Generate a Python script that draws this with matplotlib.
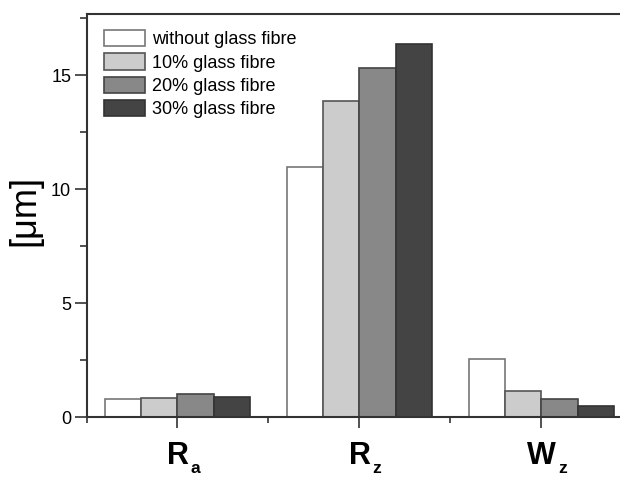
import matplotlib
matplotlib.use("Agg")
import matplotlib.pyplot as plt
import numpy as np
from matplotlib.ticker import MultipleLocator

plt.rcParams['font.family'] = ['Liberation Sans', 'DejaVu Sans']

categories = ['R', 'R', 'W']
subscripts = ['a', 'z', 'z']
series = ['without glass fibre', '10% glass fibre', '20% glass fibre', '30% glass fibre']
without_gf = [0.77, 10.98, 2.54]
gf10 = [0.85, 13.85, 1.12]
gf20 = [0.99, 15.32, 0.80]
gf30 = [0.89, 16.35, 0.49]

values = [without_gf, gf10, gf20, gf30]
colors = ['#ffffff', '#cccccc', '#888888', '#444444']
edges = ['#777777', '#555555', '#444444', '#333333']

fig = plt.figure(figsize=(6.2, 4.79), dpi=100)
ax = fig.add_axes([86.5 / 620, 62 / 479, 546 / 620, 403.5 / 479])

x = np.arange(len(categories))
w = 0.2
for i, (vals, c, ec, lab) in enumerate(zip(values, colors, edges, series)):
    ax.bar(x + (i - 1.5) * w, vals, w, color=c, edgecolor=ec, linewidth=1.2, label=lab)

ax.set_xlim(-0.5, 2.5)
ax.set_ylim(0, 17.7)
ax.set_xticks(x)
ax.set_xticklabels(categories, fontsize=22, fontweight='bold')
ax.xaxis.set_minor_locator(MultipleLocator(1, offset=0.5))
ax.yaxis.set_major_locator(MultipleLocator(5))
ax.yaxis.set_minor_locator(MultipleLocator(2.5))
ax.tick_params(axis='y', which='major', length=9, width=1.2, labelsize=13, pad=2, color='#333333')
ax.tick_params(axis='y', which='minor', length=5, width=1.2, color='#333333')
ax.tick_params(axis='x', which='major', length=8, width=1.2, pad=9.5, color='#333333')
ax.tick_params(axis='x', which='minor', length=4, width=1.2, color='#333333')
for s in ax.spines.values():
    s.set_linewidth(1.5)
    s.set_color('#333333')

ax.set_ylabel('[μm]', fontsize=26)
ax.yaxis.set_label_coords(-44.5 / 546, 0.512)

ax.legend(loc='upper left', frameon=False, fontsize=13, handlelength=2.3,
          handleheight=1.0, handletextpad=0.35, labelspacing=0.28,
          bbox_to_anchor=(0.0088, 0.99), borderaxespad=0.3)

# subscripts set low and to the right of the bold letters
fig.canvas.draw()
for lbl, sub in zip(ax.get_xticklabels(), subscripts):
    ax.annotate(sub, xy=(1, 0), xycoords=lbl, xytext=(1.5, -1.2),
                textcoords='offset points', ha='left', va='baseline',
                fontsize=12.5, fontweight='bold')

plt.savefig("out.png", dpi=100)
